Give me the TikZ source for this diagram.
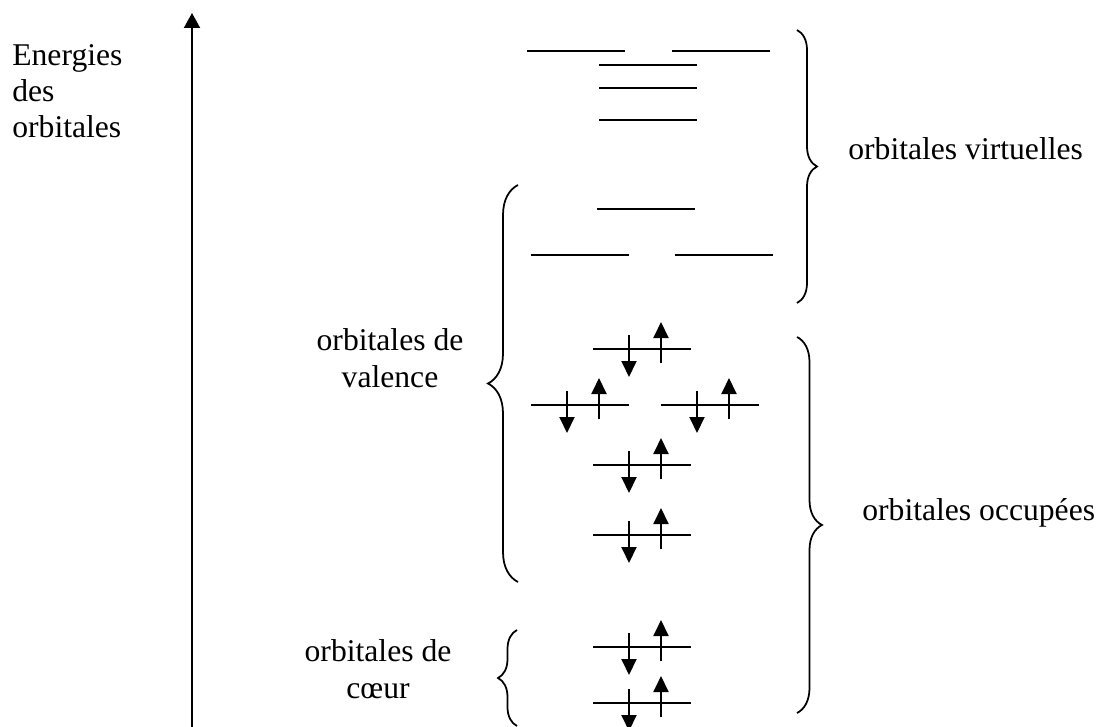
\documentclass[tikz,border=0pt]{standalone}
\usepackage{fontspec}
\setmainfont{Liberation Serif}
\usetikzlibrary{arrows.meta,decorations.pathreplacing}
\tikzset{
    niveau/.style={line width=1.1pt},
    spin/.style={line width=1.1pt,-{Triangle[width=3mm,length=3.2mm]}},
    axe/.style={line width=1.1pt,-{Triangle[width=3.2mm,length=3mm]}},
    accolade/.style={decorate,decoration={brace,amplitude=#1},line width=1pt},
    texte/.style={font=\fontsize{18}{20.5}\selectfont,inner sep=0pt},
    paire/.pic={
      \draw[niveau] (0,0) -- (98,0);
      \draw[spin] (36,-14) -- (36,28);
      \draw[spin] (68,14) -- (68,-27);
    },
  }
\begin{document}
\begin{tikzpicture}[x=0.2mm,y=-0.2mm]
				  \useasboundingbox (0,0) rectangle (1098,727);
				  %axe des energies
				  \coordinate (O) at (192,727);
				  \coordinate (E) at (192,13);
				  \draw[axe] (O) -- (E);
				  \node[texte,anchor=base west,align=left] (nrj) at (12,138) {Energies\\des\\orbitales};
				  %orbitales vides
				  \foreach \x/\y in {527/51,672/51,599/65,599/88,599/120,597/209,531/255,675/255}
				    \draw[niveau] (\x,\y) -- ++(98,0);
				  %orbitales occupees
				  \foreach \x/\y in {593/349,531/405,661/405,593/465,593/535,593/647,593/703}
				    \pic at (\x,\y) {paire};
				  %accolades
				  \coordinate (V1) at (797,30);
				  \coordinate (V2) at (797,303);
				  \draw[accolade=4mm] (V1) -- (V2);
				  \node[texte,anchor=base west] (virt) at (848,160) {orbitales virtuelles};
				  \coordinate (P1) at (797,337);
				  \coordinate (P2) at (797,713);
				  \draw[accolade=5mm] (P1) -- (P2);
				  \node[texte,anchor=base west] (occ) at (862,520) {orbitales occupées};
				  \coordinate (L1) at (518,582);
				  \coordinate (L2) at (518,185);
				  \draw[accolade=6mm] (L1) -- (L2);
				  \node[texte,anchor=base,align=center] (val) at (390,387) {orbitales de\\valence};
				  \coordinate (C1) at (517,726);
				  \coordinate (C2) at (517,630);
				  \draw[accolade=3.8mm] (C1) -- (C2);
				  \node[texte,anchor=base,align=center] (coeur) at (378,698) {orbitales de\\cœur};
				  \end{tikzpicture}
\end{document}
